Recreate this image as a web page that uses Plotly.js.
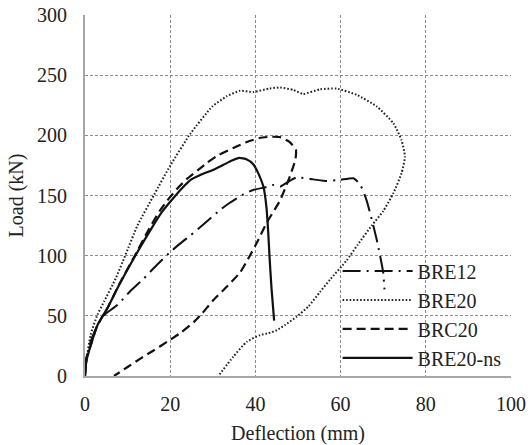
<!DOCTYPE html>
<html>
<head>
<meta charset="utf-8">
<script src="https://cdn.plot.ly/plotly-3.0.1.min.js"></script>
<style>
html,body{margin:0;padding:0;background:#fff;}
#chart{width:528px;height:445px;}
#chart svg text{font-family:"Liberation Serif","Times New Roman",serif !important;}
#chart .modebar-container, #chart .modebar{display:none !important;}
</style>
</head>
<body>
<div id="chart"></div>
<script>
// Series names
const seriesNames = ["BRE12", "BRE20", "BRC20", "BRE20-ns"];

// BRE12 (deflection mm, load kN)
const bre12X = [0, 0.3, 1, 2, 3.2, 4.5, 7.6, 10.5, 13.8, 16.8, 19.7, 22.3, 24.8, 27.5, 31.7, 34, 37.2, 39.5, 42.6, 44.2, 45.8, 47.5, 49.7, 53.6, 56.7, 59.9, 63, 64.6, 66.1, 68.5, 70, 70.3];
const bre12Y = [0, 12, 25, 35, 44, 50.7, 59, 70, 81, 92, 102, 110, 117, 125, 138, 144, 151, 154.6, 157, 158.8, 157.4, 161, 165, 163.4, 162, 163, 164.3, 159, 146, 113, 86, 72];

// BRE20
const bre20X = [0, 0.2, 1.3, 2.9, 4.5, 7.2, 9.5, 12.3, 16.2, 20.1, 24.8, 29.9, 33.3, 36.4, 39.5, 43.4, 45.8, 48.9, 51.2, 55.2, 59.1, 63.8, 68.5, 72.4, 74.3, 75.1, 74.3, 72.4, 70, 67.3, 64, 61.4, 57.5, 55.2, 52.5, 49.7, 47, 45, 43, 41.1, 38, 34.8, 31.3];
const bre20Y = [0, 9, 34, 50.7, 62, 81, 100.6, 125, 150.5, 175.4, 201.7, 224, 232.5, 237, 236, 239, 239.7, 237.7, 234.4, 238.3, 238.8, 233.6, 224, 210, 196, 182.3, 168.5, 152, 137, 125, 109, 96, 80, 70, 58, 49.3, 42.5, 38, 35.5, 34, 28.5, 16, 0];

// BRC20
const brc20X = [0, 0.3, 1.3, 2.9, 5.2, 8, 11.7, 15, 17.5, 19.8, 22, 24, 26.5, 28.6, 31, 34.8, 38, 41, 43.5, 45.8, 48, 49.5, 49.4, 48.1, 45.8, 42.6, 40.3, 38.7, 36.4, 33.5, 30.1, 27.5, 25.6, 22.5, 19.3, 16, 13.1, 10, 6.8];
const brc20Y = [0, 15, 25, 42, 56, 76, 100, 122, 137, 148, 157, 164, 171, 177, 183, 189.5, 194.5, 197.8, 198.8, 198.5, 194.5, 188, 180, 166, 146, 127, 110.5, 100, 86, 75, 63, 52, 45, 36, 28.5, 21, 14.7, 7.5, 0];

// BRE20-ns
const bre20nsX = [0, 0.3, 1.3, 2.9, 5.2, 8, 11.9, 16, 18, 20.3, 22.5, 24.8, 27.3, 29.9, 32.5, 34.5, 36.2, 38, 39.5, 40.6, 41.9, 42.6, 43, 43.3, 43.8, 44.4];
const bre20nsY = [0, 12, 25, 42, 56, 75.6, 100.6, 125, 136, 146, 155, 163, 167.5, 171, 175.5, 179, 181.2, 180, 176, 169, 157, 140, 120, 100, 72, 46];

const xTicks = [0, 20, 40, 60, 80, 100];
const yTicks = [0, 50, 100, 150, 200, 250, 300];
const xTitle = "Deflection (mm)";
const yTitle = "Load (kN)";

const FONT = "Liberation Serif, Times New Roman, serif";

const traces = [
  {x: bre12X, y: bre12Y, name: seriesNames[0], mode: "lines", line: {color: "#111", width: 2, dash: "18px,6px,2px,6px", shape: "spline", smoothing: 0.5}},
  {x: bre20X, y: bre20Y, name: seriesNames[1], mode: "lines", line: {color: "#222", width: 2, dash: "1.6px,1.9px", shape: "spline", smoothing: 0.5}},
  {x: brc20X, y: brc20Y, name: seriesNames[2], mode: "lines", line: {color: "#111", width: 2.2, dash: "9px,5px", shape: "spline", smoothing: 0.5}},
  {x: bre20nsX, y: bre20nsY, name: seriesNames[3], mode: "lines", line: {color: "#111", width: 2.2, shape: "spline", smoothing: 0.5}}
];

const layout = {
  width: 528, height: 445,
  margin: {l: 85, r: 17, t: 15, b: 69},
  font: {family: FONT, size: 20, color: "#222"},
  showlegend: true,
  legend: {
    x: 0.593, y: 0.345, xanchor: "left", yanchor: "top",
    bgcolor: "rgba(0,0,0,0)",
    font: {family: FONT, size: 20, color: "#222"},
    itemwidth: 70
  },
  xaxis: {
    range: [0, 100], tickmode: "array", tickvals: xTicks,
    showline: true, linecolor: "#a6a6a6", linewidth: 2,
    gridcolor: "#8c8c8c", griddash: "3px,2px",
    zeroline: false, ticks: "", ticklabelstandoff: 9,
    tickfont: {family: FONT, size: 20, color: "#222"},
    title: {text: xTitle, font: {family: FONT, size: 20, color: "#222"}, standoff: 13}
  },
  yaxis: {
    range: [0, 300], tickmode: "array", tickvals: yTicks,
    showline: true, linecolor: "#a6a6a6", linewidth: 2,
    gridcolor: "#8c8c8c", griddash: "3px,2px",
    zeroline: false, ticks: "", ticklabelstandoff: 12,
    tickfont: {family: FONT, size: 20, color: "#222"},
    title: {text: yTitle, font: {family: FONT, size: 20, color: "#222"}, standoff: 8}
  }
};

Plotly.newPlot("chart", traces, layout).then(function () {
  document.body.setAttribute("data-ready", "1");
});
</script>
</body>
</html>
